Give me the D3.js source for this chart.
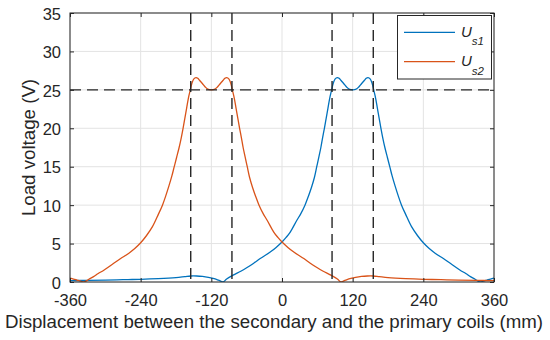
<!DOCTYPE html>
<html><head><meta charset="utf-8">
<script src="https://cdn.jsdelivr.net/npm/d3@7"></script>
<style>
html,body{margin:0;padding:0;background:#fff;}
svg{display:block;font-family:"Liberation Sans",Arial,Helvetica,sans-serif;}
</style></head>
<body><svg id="c" width="550" height="340"></svg>
<script>
// ---- data ----
const xTicks = [-360,-240,-120,0,120,240,360];
const yTicks = [0,5,10,15,20,25,30,35];
const seriesNames = ["U_s1","U_s2"];
const xs1 = [-360,-330,-300,-270,-240,-210,-180,-165,-155,-145,-135,-125,-117,-108,-100,-94,-83,-70,-60,-48,-37,-20,-10,0,7,14,25,32,39,45,50,55,59,63,66,69,72,75,78,81,84,87,90,94,97,100,105,110,115,120,125,130,135,140,143,146,150,153,156,159,162,165,168,171,175,179,183,187,192,197,203,210,220,230,240,250,260,274,288,302,312,320,328,336,342,348,354,360];
const us1 = [0.17,0.21,0.25,0.3,0.35,0.44,0.58,0.7,0.78,0.78,0.72,0.6,0.46,0.24,0.02,0.4,0.9,1.4,1.85,2.45,3.05,3.9,4.5,5.2,5.8,6.5,8.0,8.9,10.0,11.2,12.3,13.6,15.0,16.4,17.5,18.8,20.0,21.3,22.6,23.9,24.9,25.85,26.4,26.6,26.5,26.25,25.8,25.35,25.05,25.0,25.05,25.35,25.8,26.25,26.5,26.6,26.4,25.85,24.9,23.9,22.6,21.3,20.0,18.8,17.4,16.2,15.0,13.8,12.5,11.3,10.0,8.8,7.2,6.05,5.1,4.35,3.75,3.05,2.3,1.56,1.1,0.7,0.35,0.0,0.12,0.25,0.38,0.5];
const xs2 = [-360,-354,-348,-342,-336,-328,-320,-312,-302,-288,-274,-260,-250,-240,-230,-220,-210,-203,-197,-192,-187,-183,-179,-175,-171,-168,-165,-162,-159,-156,-153,-150,-146,-143,-140,-135,-130,-125,-120,-115,-110,-105,-100,-97,-94,-90,-87,-84,-81,-78,-75,-72,-69,-66,-63,-59,-55,-50,-45,-39,-32,-25,-14,-7,0,10,20,37,48,60,70,83,94,100,108,117,125,135,145,155,165,180,210,240,270,300,330,360];
const us2 = [0.5,0.38,0.25,0.12,0.0,0.35,0.7,1.1,1.56,2.3,3.05,3.75,4.35,5.1,6.05,7.2,8.8,10.0,11.3,12.5,13.8,15.0,16.2,17.4,18.8,20.0,21.3,22.6,23.9,24.9,25.85,26.4,26.6,26.5,26.25,25.8,25.35,25.05,25.0,25.05,25.35,25.8,26.25,26.5,26.6,26.4,25.85,24.9,23.9,22.6,21.3,20.0,18.8,17.5,16.4,15.0,13.6,12.3,11.2,10.0,8.9,8.0,6.5,5.8,5.2,4.5,3.9,3.05,2.45,1.85,1.4,0.9,0.4,0.02,0.24,0.46,0.6,0.72,0.78,0.78,0.7,0.58,0.44,0.35,0.3,0.25,0.21,0.17];
const guideX = [-155,-85,85,155];
const guideY = [25];

// ---- layout ----
const svg = d3.select("#c");
const L = 70, R = 494, T = 13, B = 282;
const x = d3.scaleLinear().domain([-360,360]).range([L,R]);
const y = d3.scaleLinear().domain([0,35]).range([B,T]);
const axisCol = "#262626";
const fontTick = 16.5, fontLab = 18.7;

// grid
const g = svg.append("g");
g.selectAll(".gx").data(xTicks).join("line")
  .attr("x1",d=>x(d)).attr("x2",d=>x(d)).attr("y1",T).attr("y2",B)
  .attr("stroke","#e3e3e3").attr("stroke-width",1);
g.selectAll(".gy").data(yTicks).join("line")
  .attr("y1",d=>y(d)).attr("y2",d=>y(d)).attr("x1",L).attr("x2",R)
  .attr("stroke","#e3e3e3").attr("stroke-width",1);

// clip
svg.append("clipPath").attr("id","clip").append("rect")
  .attr("x",L).attr("y",T).attr("width",R-L).attr("height",B-T);

const line = d3.line().x(d=>x(d[0])).y(d=>y(d[1])).curve(d3.curveCatmullRom.alpha(0.5));
const colors = ["#0072BD","#D95319"];
const plots = svg.append("g").attr("clip-path","url(#clip)");
plots.append("path").datum(d3.zip(xs1,us1)).attr("d",line)
  .attr("fill","none").attr("stroke",colors[0]).attr("stroke-width",1.3);
plots.append("path").datum(d3.zip(xs2,us2)).attr("d",line)
  .attr("fill","none").attr("stroke",colors[1]).attr("stroke-width",1.3);

// guide dashed lines
plots.selectAll(".vx").data(guideX).join("line")
  .attr("x1",d=>x(d)).attr("x2",d=>x(d)).attr("y1",T).attr("y2",B)
  .attr("stroke","#262626").attr("stroke-width",1.4).attr("stroke-dasharray","11,6");
plots.selectAll(".hy").data(guideY).join("line")
  .attr("y1",d=>y(d)).attr("y2",d=>y(d)).attr("x1",L).attr("x2",R)
  .attr("stroke","#262626").attr("stroke-width",1.4).attr("stroke-dasharray","11,6");

// axes box with inward ticks on all sides
const tk = 4;
const fmt = d => String(d);
const ax = svg.append("g");
ax.append("g").attr("transform",`translate(0,${B})`)
  .call(d3.axisBottom(x).tickValues(xTicks).tickFormat(fmt).tickSizeInner(-tk).tickSizeOuter(0).tickPadding(12.5))
  .call(s=>{s.select(".domain").remove(); s.selectAll("line").attr("stroke",axisCol);
    s.selectAll("text").attr("fill",axisCol).attr("font-size",fontTick).attr("font-family",null);});
ax.append("g").attr("transform",`translate(0,${T})`)
  .call(d3.axisTop(x).tickValues(xTicks).tickSizeInner(-tk).tickSizeOuter(0).tickFormat(""))
  .call(s=>{s.select(".domain").remove(); s.selectAll("line").attr("stroke",axisCol);});
ax.append("g").attr("transform",`translate(${L},0)`)
  .call(d3.axisLeft(y).tickValues(yTicks).tickFormat(fmt).tickSizeInner(-tk).tickSizeOuter(0).tickPadding(9))
  .call(s=>{s.select(".domain").remove(); s.selectAll("line").attr("stroke",axisCol);
    s.selectAll("text").attr("fill",axisCol).attr("font-size",fontTick).attr("font-family",null).attr("dy","0.38em");});
ax.append("g").attr("transform",`translate(${R},0)`)
  .call(d3.axisRight(y).tickValues(yTicks).tickSizeInner(-tk).tickSizeOuter(0).tickFormat(""))
  .call(s=>{s.select(".domain").remove(); s.selectAll("line").attr("stroke",axisCol);});
ax.append("rect").attr("x",L).attr("y",T).attr("width",R-L).attr("height",B-T)
  .attr("fill","none").attr("stroke",axisCol).attr("stroke-width",1);

// axis labels
svg.append("text").attr("x",274).attr("y",328).attr("text-anchor","middle")
  .attr("font-size",fontLab).attr("fill",axisCol)
  .text("Displacement between the secondary and the primary coils (mm)");
svg.append("text").attr("transform",`translate(34.5,${(T+B)/2}) rotate(-90)`)
  .attr("text-anchor","middle").attr("font-size",fontLab).attr("fill",axisCol)
  .text("Load voltage (V)");

// legend
const lg = svg.append("g");
lg.append("rect").attr("x",397.5).attr("y",15.5).attr("width",94).attr("height",63.5)
  .attr("fill","#fff").attr("stroke",axisCol).attr("stroke-width",1);
const ly = [32.3, 61.7];
seriesNames.forEach((n,i)=>{
  lg.append("line").attr("x1",404).attr("x2",455).attr("y1",ly[i]).attr("y2",ly[i])
    .attr("stroke",colors[i]).attr("stroke-width",1.3);
  const t = lg.append("text").attr("x",461).attr("y",ly[i]+4.5).attr("font-size",15)
    .attr("font-style","italic").attr("fill",axisCol);
  t.append("tspan").text("U");
  t.append("tspan").attr("dy",8.3).attr("font-size",11.5).text(n.split("_")[1]);
});
</script></body></html>
